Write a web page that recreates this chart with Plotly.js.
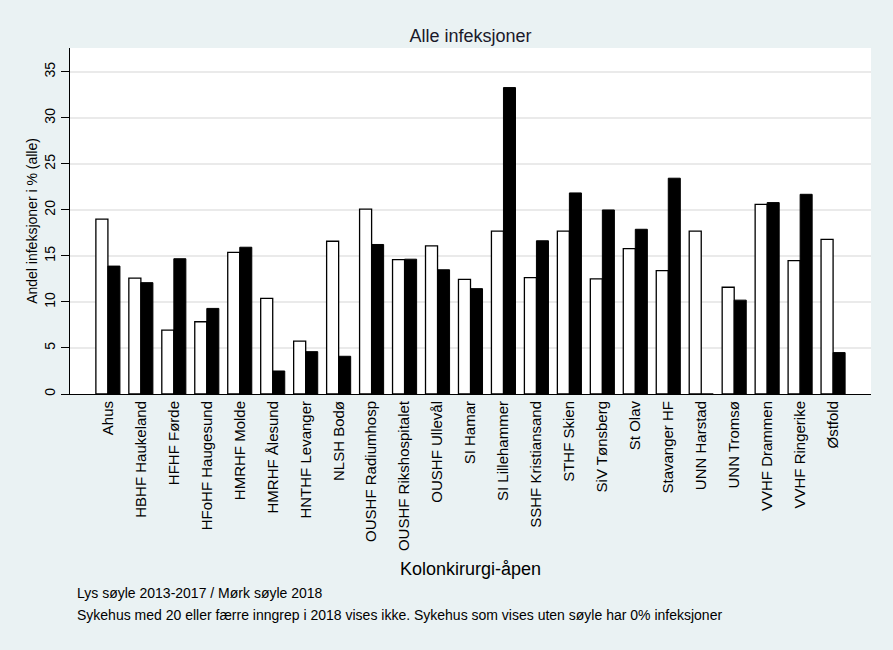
<!DOCTYPE html>
<html>
<head>
<meta charset="utf-8">
<script src="https://cdn.plot.ly/plotly-3.0.1.min.js"></script>
<style>html,body{margin:0;padding:0;background:#eaf2f3;}</style>
</head>
<body>
<div id="chart" style="width:893px;height:650px;"></div>
<script>
const categories = ["Ahus","HBHF Haukeland","HFHF Førde","HFoHF Haugesund","HMRHF Molde","HMRHF Ålesund","HNTHF Levanger","NLSH Bodø","OUSHF Radiumhosp","OUSHF Rikshospitalet","OUSHF Ullevål","SI Hamar","SI Lillehammer","SSHF Kristiansand","STHF Skien","SiV Tønsberg","St Olav","Stavanger HF","UNN Harstad","UNN Tromsø","VVHF Drammen","VVHF Ringerike","Østfold"];
const light_2013_2017 = [19.0,12.6,6.95,7.85,15.4,10.4,5.75,16.6,20.1,14.6,16.1,12.45,17.7,12.65,17.7,12.5,15.8,13.4,17.7,11.6,20.6,14.5,16.8];
const dark_2018 = [13.9,12.1,14.7,9.3,15.95,2.5,4.6,4.1,16.25,14.65,13.5,11.45,33.3,16.65,21.85,20.0,17.9,23.45,0,10.2,20.8,21.7,4.5];
const yTicks = [0,5,10,15,20,25,30,35];

const font = "Liberation Sans, Arial, sans-serif";
const data = [
  {type:"bar", x:categories, y:light_2013_2017, name:"2013-2017",
   marker:{color:"#ffffff", line:{color:"#000000", width:1.3}}, hoverinfo:"y"},
  {type:"bar", x:categories, y:dark_2018, name:"2018",
   marker:{color:"#000000", line:{color:"#000000", width:1}}, hoverinfo:"y"}
];
const layout = {
  width:893, height:650,
  paper_bgcolor:"#eaf2f3", plot_bgcolor:"#ffffff",
  margin:{l:70, r:22, t:48, b:256},
  showlegend:false,
  barmode:"group", bargap:0.27, bargroupgap:0,
  font:{family:font, color:"#1a1a1a", size:13},
  title:{text:"Alle infeksjoner", x:0.5, xref:"paper", y:0.945, yanchor:"middle", font:{size:18, family:font, color:"#1a1a2a"}},
  xaxis:{type:"category", range:[-1.15,23.15], showgrid:false, zeroline:false,
    showline:true, linecolor:"#000000", linewidth:1, ticks:"", tickangle:-90,
    tickfont:{size:15, family:font, color:"#000000"},
    title:{text:"Kolonkirurgi-åpen", font:{size:18, family:font, color:"#000000"}, standoff:12}},
  yaxis:{range:[0,37.6], tickvals:yTicks, ticktext:yTicks.map(String), tickangle:-90,
    showgrid:true, gridcolor:"#eaeaea", gridwidth:1.3, zeroline:false,
    showline:true, linecolor:"#000000", linewidth:1, ticks:"outside", ticklen:8, tickcolor:"#000000",
    tickfont:{size:14, family:font, color:"#000000"},
    title:{text:"Andel infeksjoner i % (alle)", font:{size:14, family:font, color:"#000000"}, standoff:1}},
  annotations:[
    {text:"Lys søyle 2013-2017 / Mørk søyle 2018", xref:"paper", yref:"paper", x:0.006, y:(394-593)/346,
     xanchor:"left", yanchor:"middle", showarrow:false, font:{size:14, family:font, color:"#000000"}},
    {text:"Sykehus med 20 eller færre inngrep i 2018 vises ikke. Sykehus som vises uten søyle har 0% infeksjoner", xref:"paper", yref:"paper", x:0.006, y:(394-615)/346,
     xanchor:"left", yanchor:"middle", showarrow:false, font:{size:14, family:font, color:"#000000"}}
  ]
};
Plotly.newPlot("chart", data, layout, {displayModeBar:false, staticPlot:true});
</script>
</body>
</html>
